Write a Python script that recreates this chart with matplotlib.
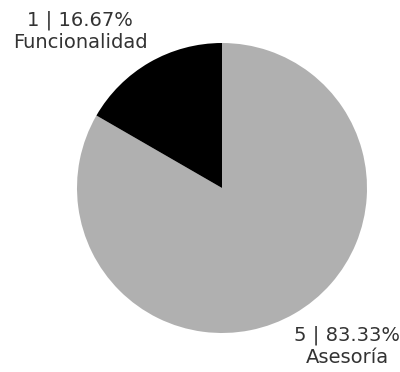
import matplotlib.pyplot as plt

# data
categories = ['Asesoría', 'Funcionalidad']
values = [5, 1]
colors = ['#b0b0b0', '#000000']

plt.rcParams['font.family'] = ['DejaVu Sans']

fig = plt.figure(figsize=(4, 3.72), dpi=100)
ax = fig.add_axes([0, 0, 1, 1])

# pie centred at pixel (222, 188), radius 145 px
r = 145.0
cx, cy = 222.0, 188.0
ax.pie(values, colors=colors, startangle=90, counterclock=False, radius=1,
       wedgeprops=dict(linewidth=0))
ax.set_xlim(-cx / r, (400 - cx) / r)
ax.set_ylim(-(372 - cy) / r, cy / r)
ax.set_aspect('equal')
ax.axis('off')

total = sum(values)

def px(x, y):
    return (x - cx) / r, (cy - y) / r

label_pos = {'Funcionalidad': (80, 31), 'Asesoría': (347, 346)}
for cat, v in zip(categories, values):
    x, y = label_pos[cat]
    txt = f'{v} | {v / total * 100:.2f}%\n{cat}'
    ax.text(*px(x, y), txt, ha='center', va='center', fontsize=14,
            color='#333333', linespacing=1.22)

fig.savefig('out.png', dpi=100)
